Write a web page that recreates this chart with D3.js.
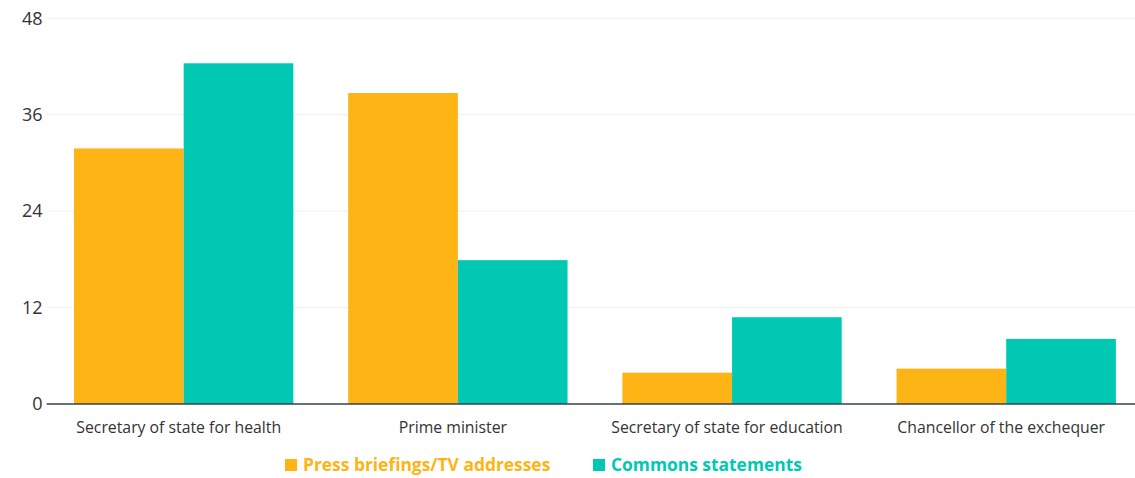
<!DOCTYPE html>
<html>
<head>
<meta charset="utf-8">
<script src="https://cdn.jsdelivr.net/npm/d3@7/dist/d3.min.js"></script>
<style>
  html, body { margin: 0; padding: 0; background: #ffffff; }
  svg { display: block; }
  text { font-family: "Open Sans", "Noto Sans", sans-serif; }
</style>
</head>
<body>
<svg id="chart" width="1135" height="478"></svg>
<script>
// Ministers and number of statements by channel
const categories = [
  "Secretary of state for health",
  "Prime minister",
  "Secretary of state for education",
  "Chancellor of the exchequer"
];
const seriesNames = ["Press briefings/TV addresses", "Commons statements"];
const pressBriefings = [31.8, 38.7, 3.9, 4.4];
const commonsStatements = [42.4, 17.9, 10.8, 8.1];
const yTicks = [0, 12, 24, 36, 48];
const colors = ["#fdb415", "#00c8b3"];

const width = 1135, height = 478;
const margin = { left: 46.6, right: -8.3, top: 18.3, bottom: 74 };

const svg = d3.select("#chart");

const x0 = d3.scaleBand()
  .domain(categories)
  .range([margin.left, width - margin.right])
  .paddingInner(0.2)
  .paddingOuter(0.1);

const x1 = d3.scaleBand()
  .domain(seriesNames)
  .range([0, x0.bandwidth()])
  .padding(0);

const y = d3.scaleLinear()
  .domain([0, 48])
  .range([height - margin.bottom, margin.top]);

// Gridlines
svg.append("g")
  .selectAll("line")
  .data(yTicks.filter(d => d !== 0))
  .join("line")
  .attr("x1", margin.left)
  .attr("x2", width)
  .attr("y1", d => y(d))
  .attr("y2", d => y(d))
  .attr("stroke", "#efefef")
  .attr("stroke-width", 1);

// Y axis labels
const yAxis = d3.axisLeft(y).tickValues(yTicks).tickSize(0).tickPadding(0);
const yg = svg.append("g")
  .attr("transform", `translate(${margin.left - 4},0)`)
  .call(yAxis);
yg.select(".domain").remove();
yg.selectAll("text")
  .attr("font-size", 18)
  .attr("fill", "#333333")
  .style("font-family", '"Open Sans", "Noto Sans", sans-serif');

// Bars
const rows = categories.map((c, i) => ({
  category: c,
  values: [pressBriefings[i], commonsStatements[i]]
}));

svg.append("g")
  .selectAll("g")
  .data(rows)
  .join("g")
  .attr("transform", d => `translate(${x0(d.category)},0)`)
  .selectAll("rect")
  .data(d => d.values.map((v, j) => ({ key: seriesNames[j], value: v, j })))
  .join("rect")
  .attr("x", d => x1(d.key))
  .attr("width", x1.bandwidth())
  .attr("y", d => y(d.value))
  .attr("height", d => y(0) - y(d.value))
  .attr("fill", d => colors[d.j]);

// X axis
const xAxis = d3.axisBottom(x0).tickSize(0).tickPadding(18);
const xg = svg.append("g")
  .attr("transform", `translate(0,${y(0)})`)
  .call(xAxis);
xg.select(".domain").remove();
xg.selectAll("text")
  .attr("font-size", 15.8)
  .attr("fill", "#333333")
  .attr("dx", -5)
  .style("font-family", '"Open Sans", "Noto Sans", sans-serif');

svg.append("line")
  .attr("x1", margin.left)
  .attr("x2", width)
  .attr("y1", y(0))
  .attr("y2", y(0))
  .attr("stroke", "#34424f")
  .attr("stroke-width", 1.5);

// Legend
const legendItems = [
  { name: seriesNames[0], color: colors[0], x: 285 },
  { name: seriesNames[1], color: colors[1], x: 593 }
];
const legend = svg.append("g").attr("transform", "translate(0,465)");
const li = legend.selectAll("g")
  .data(legendItems)
  .join("g")
  .attr("transform", d => `translate(${d.x},0)`);
li.append("rect")
  .attr("x", 0)
  .attr("y", -6)
  .attr("width", 12)
  .attr("height", 12)
  .attr("fill", d => d.color);
li.append("text")
  .attr("x", 18)
  .attr("y", 0)
  .attr("dy", "0.35em")
  .attr("font-size", 17.4)
  .attr("font-weight", "bold")
  .attr("fill", d => d.color)
  .text(d => d.name);
</script>
</body>
</html>
